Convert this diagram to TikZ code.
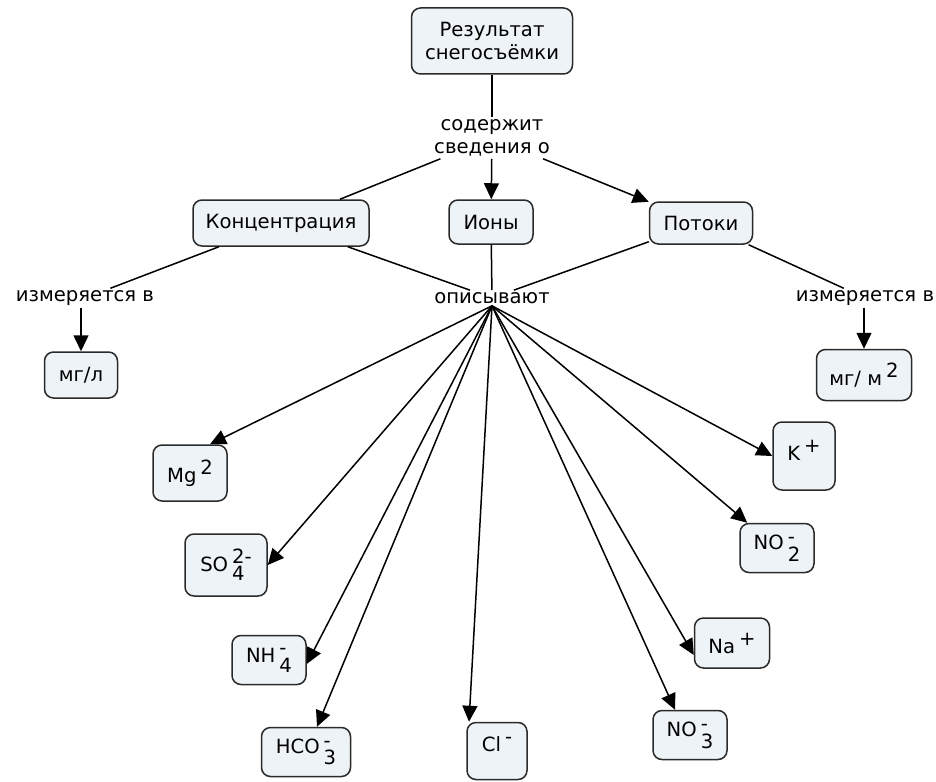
\documentclass[tikz,border=0pt]{standalone}
\usepackage{fontspec}
\setmainfont{DejaVu Sans}
\usetikzlibrary{arrows.meta}

\definecolor{boxfill}{HTML}{EDF3F6}
\definecolor{boxline}{HTML}{2A2A2A}

% raised charge written after a symbol
\newcommand\upchg[1]{\hspace{4pt}\raisebox{8pt}{#1}}
% charge stacked over an index, e.g. SO_4^{2-}
\newcommand\ionstk[3][11pt]{\hspace{4pt}\raisebox{-#1}{\shortstack[l]{#2\\#3}}}

\begin{document}
\begin{tikzpicture}[x=1pt,y=-1pt,
  concept/.style={draw=boxline, line width=1.5pt, fill=boxfill,
    rounded corners=9pt, inner sep=0pt, align=center,
    font=\fontsize{19.6}{23.5}\selectfont},
  linkword/.style={inner sep=2pt, align=center, fill=white,
    font=\fontsize{19.6}{23.5}\selectfont},
  conn/.style={line width=1.5pt, draw=black},
  arr/.style={conn, -{Triangle[length=16pt,width=15pt]}}]

\useasboundingbox (0,0) rectangle (936,781);

% concepts
\node[concept, minimum width=161pt, minimum height=66pt] (res) at (492,41) {Результат\\снегосъёмки};
\node[concept, minimum width=176pt, minimum height=46pt] (conc) at (281,223) {Концентрация};
\node[concept, minimum width=84pt, minimum height=44pt] (ions) at (491,222) {Ионы};
\node[concept, minimum width=103pt, minimum height=42pt] (potoki) at (701,223) {Потоки};
\node[concept, minimum width=73pt, minimum height=46pt] (mgl) at (81,375) {мг/л};
\node[concept, minimum width=95pt, minimum height=51pt] (mgm) at (864,375) {мг/ м\upchg{2}};

% ions
\node[concept, minimum width=74pt, minimum height=56pt] (mg) at (190,473) {Mg\upchg{2}};
\node[concept, minimum width=82pt, minimum height=62pt] (so4) at (226,565) {SO\ionstk[9pt]{2-}{4}};
\node[concept, minimum width=74pt, minimum height=49pt] (nh4) at (269,660) {NH\ionstk[10pt]{-}{4}};
\node[concept, minimum width=89pt, minimum height=49pt] (hco3) at (306,752) {HCO\ionstk{-}{3}};
\node[concept, minimum width=60pt, minimum height=57pt] (cl) at (497,751) {\raisebox{7pt}[\height][\depth]{Cl\upchg{-}}};
\node[concept, minimum width=62pt, minimum height=68pt] (k) at (804,456) {\raisebox{6pt}[\height][\depth]{K\upchg{+}}};
\node[concept, minimum width=74pt, minimum height=49pt] (no2) at (777,548) {NO\ionstk[12pt]{-}{2}};
\node[concept, minimum width=75pt, minimum height=50pt] (na) at (732,643) {Na\upchg{+}};
\node[concept, minimum width=74pt, minimum height=49pt] (no3) at (690,735) {NO\ionstk[12pt]{-}{3}};

% linking phrases
\node[linkword] (lab) at (492,138) {содержит\\сведения о};
\node[linkword] (opis) at (492,298) {описывают};
\node[linkword] (measL) at (85,298) {измеряется в};
\node[linkword] (measR) at (865,298) {измеряется в};

% top level links
\draw[conn] (res) -- (lab);
\draw[conn] (lab) -- (conc);
\draw[arr] (lab) -- (ions);
\draw[arr] (lab) -- (potoki);

% units
\draw[conn] (conc) -- (measL);
\draw[arr] (measL.south -| mgl.north) -- (mgl.north);
\draw[conn] (potoki) -- (measR);
\draw[arr] (measR.south -| mgm.north) -- (mgm.north);

% ions description
\draw[conn] (conc) -- (opis);
\draw[conn] (ions) -- (opis);
\draw[conn] (potoki) -- (opis);

\draw[arr] (opis.south) -- ([xshift=20pt]mg.north);
\draw[arr] (opis.south) -- (so4.east);
\draw[arr] (opis.south) -- ([yshift=-4pt]nh4.east);
\draw[arr] (opis.south) -- ([xshift=11pt]hco3.north);
\draw[arr] (opis.south) -- ([xshift=-28pt]cl.north);
\draw[arr] (opis.south) -- ([xshift=-15pt]no3.north);
\draw[arr] (opis.south) -- ([yshift=-12pt]na.west);
\draw[arr] (opis.south) -- ([xshift=8pt]no2.north west);
\draw[arr] (opis.south) -- (k.west);
\end{tikzpicture}
\end{document}
